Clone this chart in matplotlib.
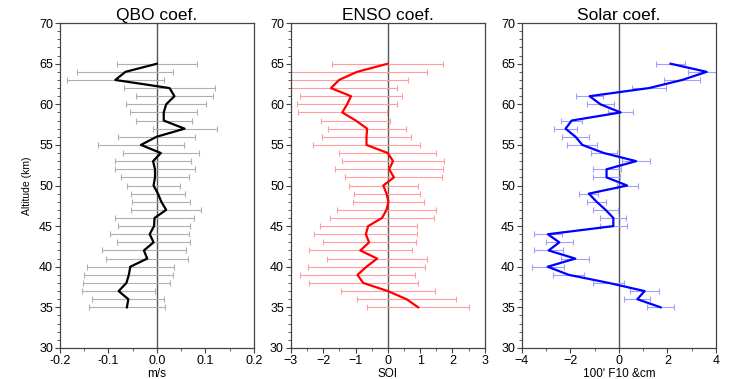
import matplotlib
matplotlib.use("Agg")
import matplotlib.pyplot as plt
from matplotlib.ticker import MultipleLocator

# Altitude levels (km)
altitude = list(range(35, 66))

# QBO coefficient (m/s) and error, 35 -> 65 km
qbo = [-0.062, -0.059, -0.079, -0.063, -0.058, -0.055, -0.020, -0.027, -0.007, -0.015,
       -0.006, -0.005, 0.019, 0.009, 0.002, -0.007, -0.004, -0.004, -0.008, 0.008,
       -0.033, -0.001, 0.057, 0.014, 0.014, 0.019, 0.036, 0.026, -0.086, -0.065, 0.0]
qbo_err = [0.078, 0.074, 0.076, 0.090, 0.092, 0.090, 0.085, 0.086, 0.075, 0.082,
           0.075, 0.082, 0.072, 0.060, 0.056, 0.055, 0.070, 0.082, 0.079, 0.078,
           0.089, 0.079, 0.066, 0.058, 0.069, 0.082, 0.080, 0.094, 0.100, 0.099, 0.082]

# ENSO coefficient (SOI) and error
enso = [0.94, 0.58, 0.0, -0.76, -0.94, -0.66, -0.33, -0.85, -0.58, -0.68,
        -0.61, -0.18, -0.04, 0.02, -0.04, -0.14, 0.19, 0.04, 0.16, 0.0,
        -0.66, -0.66, -0.64, -0.99, -1.41, -1.26, -1.14, -1.76, -1.51, -0.95, 0.0]
enso_err = [1.58, 1.52, 1.45, 1.69, 1.78, 1.80, 1.54, 1.59, 1.44, 1.59,
            1.50, 1.60, 1.52, 1.10, 1.02, 1.07, 1.50, 1.67, 1.57, 1.50,
            1.65, 1.38, 1.21, 1.07, 1.37, 1.54, 1.57, 2.03, 2.12, 2.15, 1.72]

# Solar coefficient and error
solar = [1.72, 0.76, 1.06, -0.41, -2.07, -2.94, -1.80, -2.90, -2.46, -2.93,
         -0.23, -0.23, -0.55, -0.92, -1.24, 0.34, -0.51, -0.51, 0.71, -0.62,
         -1.51, -1.79, -2.20, -1.95, 0.07, -0.76, -1.21, 1.24, 2.61, 3.62, 2.13]
solar_err = [0.55, 0.54, 0.60, 0.64, 0.64, 0.66, 0.58, 0.60, 0.55, 0.59,
             0.55, 0.54, 0.53, 0.39, 0.39, 0.43, 0.55, 0.58, 0.58, 0.55,
             0.62, 0.54, 0.47, 0.43, 0.52, 0.57, 0.56, 0.71, 0.74, 0.75, 0.60]


def setup_style():
    """Global styling"""
    plt.rcParams.update({
        'font.family': ['Liberation Sans', 'DejaVu Sans'],
        'font.size': 9,
        'axes.linewidth': 0.9,
        'axes.edgecolor': '#444444',
        'xtick.direction': 'out',
        'ytick.direction': 'out',
        'xtick.color': '#444444',
        'ytick.color': '#444444',
        'xtick.labelcolor': 'black',
        'ytick.labelcolor': 'black',
    })


def plot_panel(ax, values, errs, color, bar_color, title, xlabel, xlim, xmajor):
    """One coefficient profile with error bars"""
    ax.axvline(0, color='#555555', lw=1.0, zorder=1)
    eb = ax.errorbar(values, altitude, xerr=errs, fmt='none', ecolor=bar_color,
                     elinewidth=0.8, capsize=2, capthick=0.8, zorder=2)
    for cap in eb[1]:
        cap.set_color(color)
    ax.plot(values, altitude, color=color, lw=1.6, zorder=3)

    ax.set_xlim(*xlim)
    ax.set_ylim(30, 70)
    ax.xaxis.set_major_locator(MultipleLocator(xmajor))
    ax.xaxis.set_minor_locator(MultipleLocator(xmajor / 2))
    ax.yaxis.set_major_locator(MultipleLocator(5))
    ax.yaxis.set_minor_locator(MultipleLocator(1))
    ax.tick_params(which='major', length=3.5, width=0.8, pad=1.5, labelsize=9)
    ax.tick_params(which='minor', length=2, width=0.6)
    ax.set_title(title, fontsize=12.5, pad=0)
    ax.set_xlabel(xlabel, fontsize=8.5, labelpad=0.5)


setup_style()
fig = plt.figure(figsize=(7.29, 3.79), dpi=100)

ax1 = fig.add_axes([0.0823, 0.082, 0.266, 0.857])
ax2 = fig.add_axes([0.399, 0.082, 0.266, 0.857])
ax3 = fig.add_axes([0.716, 0.082, 0.266, 0.857])

plot_panel(ax1, qbo, qbo_err, 'black', '#b0b0b0', 'QBO coef.', 'm/s', (-0.2, 0.2), 0.1)
plot_panel(ax2, enso, enso_err, 'red', '#ff9e9e', 'ENSO coef.', 'SOI', (-3, 3), 1)
plot_panel(ax3, solar, solar_err, 'blue', '#a0a0ff', 'Solar coef.', "100' F10 &cm", (-4, 4), 2)

ax1.xaxis.set_major_formatter(plt.FuncFormatter(lambda v, p: f'{v:.1f}'))
ax1.set_ylabel('Altitude (km)', fontsize=7.5, labelpad=5)

fig.savefig('out.png', dpi=100)
